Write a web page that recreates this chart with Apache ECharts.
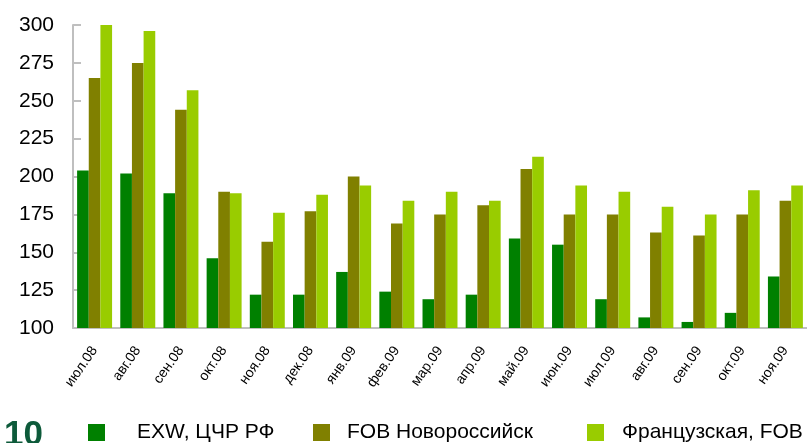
<!DOCTYPE html>
<html>
<head>
<meta charset="utf-8">
<script src="https://cdn.jsdelivr.net/npm/echarts@6/dist/echarts.min.js"></script>
<style>
  html, body { margin: 0; padding: 0; background: #fff; }
  #chart { width: 807px; height: 443px; }
</style>
</head>
<body>
<div id="chart"></div>
<script>
var months = ['июл.08', 'авг.08', 'сен.08', 'окт.08', 'ноя.08', 'дек.08', 'янв.09', 'фев.09', 'мар.09',
    'апр.09', 'май.09', 'июн.09', 'июл.09', 'авг.09', 'сен.09', 'окт.09', 'ноя.09'];
var exwCcr = [204, 202, 189, 146, 122, 122, 137, 124, 119, 122, 159, 155, 119, 107, 104, 110, 134];
var fobNovo = [265, 275, 244, 190, 157, 177, 200, 169, 175, 181, 205, 175, 175, 163, 161, 175, 184];
var frenchFob = [302, 296, 257, 189, 176, 188, 194, 184, 190, 184, 213, 194, 190, 180, 175, 191, 194];
var yTicks = [100, 125, 150, 175, 200, 225, 250, 275, 300];

var names = ['EXW, ЦЧР РФ', 'FOB Новороссийск', 'Французская, FOB'];
var colors = ['#008000', '#808000', '#99cc00'];
var font = 'Liberation Sans, Arial, sans-serif';

document.addEventListener('DOMContentLoaded', function () {
    var myChart = echarts.init(document.getElementById('chart'));

    function legendAt(i, x, gap) {
        return {
            data: [names[i]],
            left: x,
            top: 422,
            padding: 0,
            itemWidth: 17,
            itemHeight: 17,
            icon: 'rect',
            selectedMode: false,
            textStyle: {
                fontFamily: font,
                fontSize: 21,
                color: '#000',
                padding: [0, 0, 0, gap]
            }
        };
    }

    var option = {
        animation: false,
        color: colors,
        grid: { left: 73, right: -4, top: 25, bottom: 115 },
        legend: [legendAt(0, 88, 27), legendAt(1, 313, 12), legendAt(2, 587, 13)],
        graphic: [{
            type: 'text',
            left: 4,
            top: 418,
            style: {
                text: '10',
                fontFamily: font,
                fontWeight: 'bold',
                fontSize: 35,
                fill: '#0d5a3a'
            }
        }],
        xAxis: {
            type: 'category',
            data: months,
            axisLine: { lineStyle: { color: '#bfbfbf', width: 2 } },
            axisTick: { show: false },
            axisLabel: {
                interval: 0,
                rotate: 55,
                margin: 20,
                fontFamily: font,
                fontSize: 14,
                color: '#000'
            }
        },
        yAxis: {
            type: 'value',
            min: yTicks[0],
            max: yTicks[yTicks.length - 1],
            interval: 25,
            splitLine: { show: false },
            axisLine: { show: true, lineStyle: { color: '#bfbfbf', width: 2 } },
            axisTick: { show: true, inside: true, length: 8, lineStyle: { color: '#bfbfbf', width: 2 } },
            axisLabel: {
                margin: 19,
                fontFamily: font,
                fontSize: 21,
                color: '#000'
            }
        },
        series: [exwCcr, fobNovo, frenchFob].map(function (vals, i) {
            return {
                name: names[i],
                type: 'bar',
                data: vals,
                barGap: '0%',
                barCategoryGap: '19%',
                itemStyle: { color: colors[i] }
            };
        })
    };

    option && myChart.setOption(option);
});
</script>
</body>
</html>
